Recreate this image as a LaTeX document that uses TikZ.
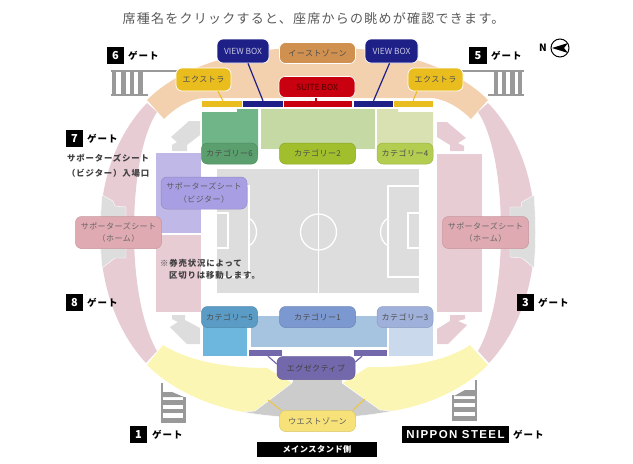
\documentclass[tikz,border=0pt]{standalone}
\usepackage{fontspec}
\setmainfont{Noto Sans CJK JP}
\newfontfamily\headfont[LetterSpace=9.7]{Noto Sans CJK JP}
\newfontfamily\seatfont[LetterSpace=6]{Noto Sans CJK JP}
\newfontfamily\gatefont[LetterSpace=10]{Noto Sans CJK JP}
\newfontfamily\steelfont[LetterSpace=12]{Liberation Sans}
\definecolor{ringpink}{HTML}{E8CCD4}
\definecolor{eastorange}{HTML}{F3D0AE}
\definecolor{westyellow}{HTML}{FCF6B4}
\definecolor{pitchgray}{HTML}{DDDDDD}
\definecolor{railgray}{HTML}{999999}
\definecolor{wedgegray}{HTML}{CCCCCC}
\definecolor{viewblue}{HTML}{1E2088}
\definecolor{suitered}{HTML}{C8000F}
\definecolor{extrayellow}{HTML}{EABD1F}
\definecolor{execpurple}{HTML}{7468AC}
\definecolor{eastbox}{HTML}{D09150}
\definecolor{westbox}{HTML}{F7E27A}
\definecolor{blockcatsix}{HTML}{6FB587}
\definecolor{nodecatsix}{HTML}{5A9F6D}
\definecolor{blockcattwo}{HTML}{C5D9A5}
\definecolor{nodecattwo}{HTML}{A1BE2C}
\definecolor{blockcatfour}{HTML}{D9E1B2}
\definecolor{nodecatfour}{HTML}{B3CD50}
\definecolor{blockcatfive}{HTML}{6DB6DE}
\definecolor{nodecatfive}{HTML}{5A9CC5}
\definecolor{blockcatone}{HTML}{A6C4E0}
\definecolor{nodecatone}{HTML}{7B98D0}
\definecolor{blockcatthree}{HTML}{CBD9EC}
\definecolor{nodecatthree}{HTML}{9FB0DA}
\definecolor{blockvisitor}{HTML}{C0B8E6}
\definecolor{nodevisitor}{HTML}{A89EE3}
\definecolor{nodehome}{HTML}{E0AAB2}
\tikzset{
  seatbox/.style 2 args={draw=#1!88!black,line width=.5pt,rounded corners=6pt,inner sep=0pt,fill=#1,text=#2,font=\seatfont\fontsize{8}{12}\selectfont,align=center},
  topbox/.style={draw=white,line width=.7pt},
  widebox/.style={minimum width=76pt,minimum height=21pt},
  catbox/.style={minimum width=56pt,minimum height=21pt},
  supbox/.style={minimum width=86pt,minimum height=32pt,font=\seatfont\fontsize{8}{12.5}\selectfont},
  barnode/.style={inner sep=0pt,minimum height=6pt,fill=#1},
  gatebox/.style={fill=black,text=white,inner sep=0pt,minimum width=17.5pt,minimum height=16.5pt,font=\bfseries\fontsize{11}{11}\selectfont},
  gatetext/.style={inner sep=0pt,anchor=west,font=\gatefont\bfseries\fontsize{9.5}{10}\selectfont},
  notetext/.style={inner sep=0pt,anchor=west,text=black!75,font=\gatefont\bfseries\fontsize{8.4}{10}\selectfont},
  rail/.style={draw=railgray,line width=#1},
  pitchline/.style={draw=white,line width=1.3pt}
}
\begin{document}
\begin{tikzpicture}[x=1pt,y=-1pt]
    \useasboundingbox (0,0) rectangle (633,464);
    \node[text=black!65,inner sep=0pt,font=\headfont\fontsize{13}{14}\selectfont] (headline) at (313.5,19) {席種名をクリックすると、座席からの眺めが確認できます。};
    % gates
    \draw[rail=2pt] (111,71)--(177,71); \draw[rail=2pt] (111,95)--(148,95);
    \foreach \x in {114,123.5,132,140.5} \draw[rail=4.5pt] (\x,71)--(\x,95);
    \draw[rail=2pt] (462,71)--(524,71); \draw[rail=2pt] (488,95)--(524,95);
    \foreach \x in {496,504,512.5,520} \draw[rail=4.5pt] (\x,71)--(\x,95);
    \draw[rail=2.5pt] (162,383)--(162,423); \draw[rail=2.5pt] (184.5,397)--(184.5,423);
    \fill[railgray] (163,392)--(172,392)--(184,397)--(163,397)--cycle;
    \foreach \y in {402.5,411,420.5} \draw[rail=4.5pt] (162,\y)--(185,\y);
    \draw[rail=2.5pt] (476,380)--(476,421); \draw[rail=2.5pt] (453,395)--(453,421);
    \fill[railgray] (475,390)--(465,390)--(454,396)--(475,396)--cycle;
    \foreach \y in {401,409.5,418.5} \draw[rail=4.5pt] (453,\y)--(476,\y);
    % stands
    \fill[eastorange] (147,100) .. controls (185,62) and (250,47) .. (318,47) .. controls (385,47) and (450,62) .. (488,100)--(471,119) .. controls (460,108) and (447,100) .. (433,98)--(202,98) .. controls (188,100) and (175,108) .. (164,119)--cycle;
    \fill[ringpink] (147,103) .. controls (118,133) and (100,178) .. (100,232) .. controls (100,285) and (117,332) .. (146,363)--(157,351) .. controls (142,325) and (134,280) .. (134,232) .. controls (134,180) and (142,135) .. (157,112)--cycle;
    \fill[ringpink] (488,103) .. controls (517,133) and (535,178) .. (535,232) .. controls (535,285) and (518,332) .. (489,363)--(478,351) .. controls (493,325) and (501,280) .. (501,232) .. controls (501,180) and (493,135) .. (478,112)--cycle;
    \fill[pitchgray,draw=white] (102,195)--(113,201)--(115,206)--(126,207)--(126,258)--(115,258)--(102,268) .. controls (100,245) and (100,220) .. (102,195)--cycle;
    \fill[pitchgray,draw=white] (534,195)--(522,202)--(521,207)--(510,207)--(510,257)--(522,258)--(534,268) .. controls (536,245) and (536,220) .. (534,195)--cycle;
    \fill[westyellow] (163,345) .. controls (190,362) and (230,368) .. (267,368)--(292,383)--(255,411)--(243,412) .. controls (205,405) and (170,388) .. (147,365)--cycle;
    \fill[westyellow] (470,345) .. controls (445,362) and (405,368) .. (368,367)--(343,383)--(380,410)--(392,411) .. controls (430,405) and (465,388) .. (488,365)--cycle;
    \fill[wedgegray,draw=white] (293,379)--(342,379)--(342,383)--(380,410)--(392,411) .. controls (350,420) and (285,420) .. (243,412)--(255,411)--(292,383)--cycle;
    % inner blocks
    \fill[ringpink] (156,235) rectangle (201,312);
    \fill[ringpink] (437,154) rectangle (482,312);
    \fill[blockvisitor] (156,153) rectangle (201,233);
    \fill[pitchgray] (200,121)--(189,121)--(171,137)--(177,142)--(172,145)--(172,151)--(187,151)--(187,145)--(200,135)--cycle;
    \fill[ringpink] (437,122)--(447,122)--(466,138)--(458,143)--(464,146)--(464,151)--(450,151)--(450,145)--(437,137)--cycle;
    \fill[pitchgray] (172,315)--(185,315)--(185,320)--(200,328)--(200,344)--(187,344)--(170,327)--(178,322)--(172,319)--cycle;
    \fill[ringpink] (450,315)--(465,315)--(465,319)--(458,321)--(467,325)--(448,344)--(437,344)--(437,329)--(450,321)--cycle;
    \fill[blockcatsix] (202,112)--(237,112)--(237,109)--(258,109)--(258,155)--(202,155)--cycle;
    \fill[blockcattwo] (261,109) rectangle (375,149);
    \fill[blockcatfour] (377,109)--(398,109)--(398,112)--(433,112)--(433,155)--(377,155)--cycle;
    \fill[blockcatfive] (203,317) rectangle (247,356);
    \fill[blockcatone] (251,316) rectangle (387,347);
    \fill[blockcatthree] (389,317) rectangle (433,356);
    % pitch
    \fill[pitchgray] (217,169) rectangle (419,293);
    \draw[pitchline] (318.5,169)--(318.5,293);
    \draw[pitchline] (318.5,232) circle (18);
    \draw[pitchline] (217,186)--(249,186)--(249,277)--(217,277);
    \draw[pitchline] (217,213)--(228,213)--(228,248)--(217,248);
    \draw[pitchline] (249,218) .. controls (259,224) and (259,240) .. (249,246);
    \draw[pitchline] (419,186)--(388,186)--(388,277)--(419,277);
    \draw[pitchline] (419,213)--(408,213)--(408,248)--(419,248);
    \draw[pitchline] (388,218) .. controls (378,224) and (378,240) .. (388,246);
    % boxes and bars
    \node[barnode=extrayellow,minimum width=40pt] (barextral) at (222,104) {};
    \node[barnode=viewblue,minimum width=40pt] (barviewl) at (263,104) {};
    \node[barnode=suitered,minimum width=68pt] (barsuite) at (318,104) {};
    \node[barnode=viewblue,minimum width=39pt] (barviewr) at (373.5,104) {};
    \node[barnode=extrayellow,minimum width=39pt] (barextrar) at (413.5,104) {};
    \node[barnode=execpurple,minimum width=33pt] (barexecl) at (265.5,353) {};
    \node[barnode=execpurple,minimum width=33pt] (barexecr) at (370.5,353) {};
    \node[seatbox={viewblue}{white!75!viewblue},topbox,minimum width=52pt,minimum height=24pt,font=\fontsize{8.4}{12}\selectfont] (viewl) at (243,51) {VIEW BOX};
    \node[seatbox={viewblue}{white!75!viewblue},topbox,minimum width=53pt,minimum height=24pt,font=\fontsize{8.4}{12}\selectfont] (viewr) at (391.5,51) {VIEW BOX};
    \node[seatbox={eastbox}{black!70},topbox,widebox] (east) at (317.5,53) {イーストゾーン};
    \node[seatbox={suitered}{black!70!red},topbox,widebox,font=\fontsize{8.4}{12}\selectfont] (suite) at (317,87) {SUITE BOX};
    \node[seatbox={extrayellow}{black!70},topbox,minimum width=55pt,minimum height=23pt] (extral) at (203.5,79.5) {エクストラ};
    \node[seatbox={extrayellow}{black!70},topbox,minimum width=55pt,minimum height=23pt] (extrar) at (435.5,79.5) {エクストラ};
    \node[seatbox={nodecatsix}{black!70},catbox] (cat6) at (229.5,153.5) {カテゴリー6};
    \node[seatbox={nodecattwo}{black!70},widebox] (cat2) at (317.5,153.5) {カテゴリー2};
    \node[seatbox={nodecatfour}{black!70},catbox] (cat4) at (405,153.5) {カテゴリー4};
    \node[seatbox={nodecatfive}{black!70},catbox] (cat5) at (229.5,317) {カテゴリー5};
    \node[seatbox={nodecatone}{black!70},widebox] (cat1) at (317.5,317) {カテゴリー1};
    \node[seatbox={nodecatthree}{black!70},catbox] (cat3) at (405,317) {カテゴリー3};
    \node[seatbox={nodevisitor}{black!65},supbox] (supvisitor) at (204,193) {サポーターズシート\\（ビジター）};
    \node[seatbox={nodehome}{black!60},supbox] (suphomel) at (118.5,232.5) {サポーターズシート\\（ホーム）};
    \node[seatbox={nodehome}{black!60},supbox] (suphomer) at (485.5,232.5) {サポーターズシート\\（ホーム）};
    \node[seatbox={execpurple}{black!75},minimum width=78pt,minimum height=23pt] (exec) at (316,368) {エグゼクティブ};
    \node[seatbox={westbox}{black!65},widebox] (west) at (317.5,421) {ウエストゾーン};
    \coordinate (westl) at (268,400); \coordinate (westr) at (365,399);
    % connectors
    \draw[viewblue,line width=1.2pt] ([xshift=5pt]viewl.south)--(barviewl.north);
    \draw[viewblue,line width=1.2pt] ([xshift=-2pt]viewr.south)--(barviewr.north);
    \draw[suitered,line width=1.4pt] ([xshift=-1pt]suite.south)--([xshift=-2pt]barsuite.north);
    \draw[extrayellow,line width=1pt] ([xshift=14.5pt]extral.south)--([xshift=1pt]barextral.north);
    \draw[extrayellow,line width=1pt] ([xshift=-18.5pt]extrar.south)--([xshift=-.5pt]barextrar.north);
    \draw[execpurple,line width=1.2pt] ([xshift=2.5pt]barexecl.south)--([yshift=4pt]exec.west);
    \draw[execpurple,line width=1.2pt] ([xshift=-8.5pt]barexecr.south)--([yshift=6pt]exec.east);
    \draw[extrayellow!85!white,line width=1pt] (westl)--([xshift=2pt]west.north west);
    \draw[extrayellow!85!white,line width=1pt] (westr)--([xshift=-3pt]west.north east);
    % labels
    \node[gatebox] (gate6) at (115.5,55.5) {6}; \node[gatetext] (gate6t) at (128,55.5) {ゲート};
    \node[gatebox] (gate5) at (478,55.5) {5}; \node[gatetext] (gate5t) at (491,55.5) {ゲート};
    \node[gatebox] (gate7) at (74.5,138.5) {7}; \node[gatetext] (gate7t) at (87,138.5) {ゲート};
    \node[gatebox] (gate8) at (74.5,302.5) {8}; \node[gatetext] (gate8t) at (87,302.5) {ゲート};
    \node[gatebox] (gate3) at (525.5,302.5) {3}; \node[gatetext] (gate3t) at (538,302.5) {ゲート};
    \node[gatebox] (gate1) at (138.5,434.5) {1}; \node[gatetext] (gate1t) at (152,434.5) {ゲート};
    \node[gatebox,minimum width=107pt,font=\steelfont\bfseries\fontsize{11.5}{11}\selectfont] (gatens) at (455.5,434.5) {NIPPON STEEL};
    \node[gatetext] (gatenst) at (513,434.5) {ゲート};
    \node[gatebox,minimum width=120pt,minimum height=15pt,font=\seatfont\bfseries\fontsize{8.2}{9}\selectfont] (mainstand) at (317,449.5) {メインスタンド側};
    \node[notetext] (gate7a) at (67,158) {サポーターズシート};
    \node[notetext] (gate7b) at (67,173) {（ビジター）入場口};
    \node[notetext] (notea) at (160,263) {※券売状況によって};
    \node[notetext] (noteb) at (169,275.5) {区切りは移動します。};
    \node[inner sep=0pt,font=\bfseries\fontsize{10}{10}\selectfont] (north) at (543,48) {N};
    \node[draw=black,circle,line width=1pt,minimum size=18pt,inner sep=0pt] (compass) at (560,48) {};
    \fill (552,48)--(568,43)--(564,48)--(568,53)--cycle;
\end{tikzpicture}
\end{document}
